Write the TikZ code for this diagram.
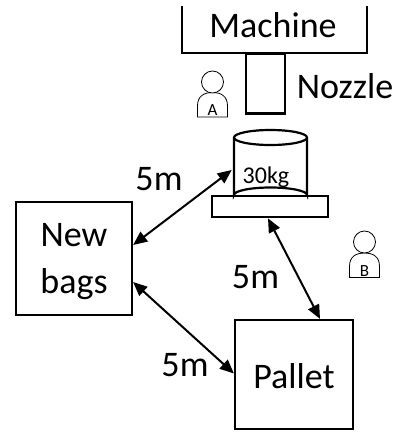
\documentclass[tikz,border=0pt]{standalone}
\usepackage{fontspec}
\setmainfont{Carlito}
\usetikzlibrary{arrows.meta}
\begin{document}
\begin{tikzpicture}[x=1pt,y=-1pt,
  thick line/.style={line width=2.2pt},
  box/.style={draw,thick line,rectangle,inner sep=0pt},
  label text/.style={font=\fontsize{36}{42}\selectfont,inner sep=0pt,anchor=base},
  dist/.style={line width=2pt,{Triangle[length=14pt,width=12pt]}-{Triangle[length=14pt,width=12pt]}},
  person/.style={draw,line width=0.8pt,fill=white},
  tag/.style={font=\fontsize{17}{19}\selectfont,inner sep=0pt,anchor=base},
]
\useasboundingbox (0,0) rectangle (399,432);

% machine housing (open at the top) and its nozzle
\draw[thick line] (182,6) -- (182,53) -- (367,53) -- (367,6);
\node[label text] (machine) at (273,37.3) {Machine};
\node[box,minimum width=39pt,minimum height=60pt] (nozzle) at (265.5,83.5) {};
\node[label text] (nozzlelbl) at (345,98.3) {Nozzle};

% operator A
\draw[person] (197.5,117) -- (197.5,106) .. controls (197.5,96) and (204,92.5) .. (212.5,92.5)
  .. controls (221,92.5) and (227.5,96) .. (227.5,106) -- (227.5,117) -- cycle;
\draw[person] (212.5,82) circle[radius=11];
\node[tag] (opA) at (212.5,115.5) {A};

% operator B
\draw[person] (349.5,277.5) -- (349.5,266.5) .. controls (349.5,256.5) and (356,253) .. (364.5,253)
  .. controls (373,253) and (379.5,256.5) .. (379.5,266.5) -- (379.5,277.5) -- cycle;
\draw[person] (364.5,242) circle[radius=11];
\node[tag] (opB) at (364.5,276) {B};

% scale platform with the 30 kg drum on it
\node[box,minimum width=116pt,minimum height=21pt] (platform) at (270,206.7) {};
\draw[thick line] (270.5,137.5) ellipse[x radius=36.5,y radius=7.5];
\draw[thick line] (234,137.5) -- (234,195) arc[start angle=180,end angle=360,x radius=36.5,y radius=7.5] -- (307,137.5);
\node[font=\fontsize{24}{28}\selectfont,inner sep=0pt,anchor=base] (drum) at (266,183.3) {30kg};
\coordinate (drumleft) at (231.7,170);

% material stations
\node[box,minimum width=116pt,minimum height=113pt] (newbags) at (74,258.5) {};
\node[label text] (nb1) at (74,246.5) {New};
\node[label text] (nb2) at (74,293.3) {bags};
\node[box,minimum width=118pt,minimum height=109pt] (pallet) at (294,374.5) {};
\node[label text] (pl) at (294,388.3) {Pallet};

% walking distances
\draw[dist] (drumleft) -- ([yshift=13.5pt]newbags.east);
\node[label text] (d1) at (159,190.5) {5m};
\draw[dist] ([yshift=-23.5pt]newbags.east) -- ([yshift=1pt]pallet.west);
\node[label text] (d2) at (185,376) {5m};
\draw[dist] ([xshift=-2pt]platform.south) -- ([xshift=26pt]pallet.north);
\node[label text] (d3) at (255.5,288.3) {5m};
\end{tikzpicture}
\end{document}
